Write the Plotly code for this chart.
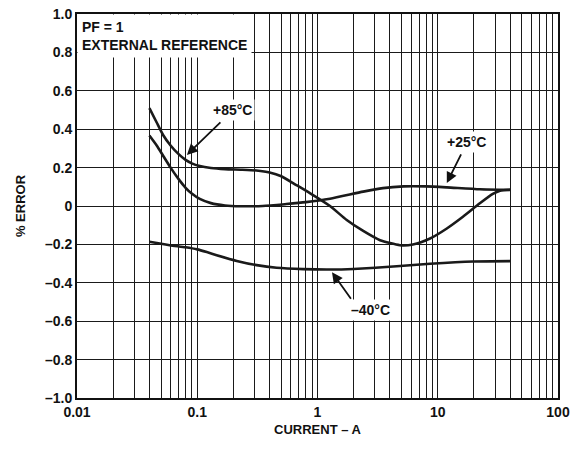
import math
import plotly.graph_objects as go

# Data
x_85 = [0.04, 0.046, 0.052, 0.06, 0.07, 0.08, 0.09, 0.105, 0.13, 0.17, 0.23, 0.31, 0.4, 0.5, 0.65, 0.87, 1.27, 1.75, 2.4, 3.31, 4.85, 6.22, 8.63, 11.9, 16.2, 22.4, 28.7, 33, 40]
y_85 = [0.51, 0.435, 0.37, 0.315, 0.27, 0.24, 0.222, 0.208, 0.198, 0.192, 0.189, 0.185, 0.175, 0.155, 0.113, 0.066, 0.0, -0.073, -0.13, -0.178, -0.204, -0.2, -0.169, -0.117, -0.056, 0.014, 0.063, 0.08, 0.085]

x_25 = [0.04, 0.046, 0.052, 0.06, 0.07, 0.08, 0.09, 0.105, 0.13, 0.17, 0.23, 0.35, 0.55, 0.8, 1.27, 2.4, 3.5, 5.2, 8.0, 11.9, 22.4, 40]
y_25 = [0.367, 0.315, 0.262, 0.2, 0.14, 0.095, 0.065, 0.037, 0.015, 0.003, -0.001, 0.0, 0.01, 0.02, 0.038, 0.075, 0.093, 0.102, 0.102, 0.097, 0.087, 0.084]

x_m40 = [0.04, 0.059, 0.08, 0.1, 0.12, 0.145, 0.213, 0.312, 0.457, 0.76, 1.27, 1.99, 4.56, 8.63, 19.8, 40]
y_m40 = [-0.186, -0.204, -0.215, -0.226, -0.24, -0.256, -0.286, -0.308, -0.322, -0.329, -0.331, -0.328, -0.314, -0.301, -0.289, -0.287]

x_tickvals = [0.01, 0.1, 1, 10, 100]
x_ticktext = ["0.01", "0.1", "1", "10", "100"]
y_tickvals = [1.0, 0.8, 0.6, 0.4, 0.2, 0, -0.2, -0.4, -0.6, -0.8, -1.0]
y_ticktext = ["1.0", "0.8", "0.6", "0.4", "0.2", "0", "–0.2", "–0.4", "–0.6", "–0.8", "–1.0"]

label_x = [0.198, 17.5, 2.74]
label_y = [0.50, 0.334, -0.543]
label_text = ["+85°C", "+25°C", "–40°C"]

arrow_x = [0.082, 11.9, 1.32]
arrow_y = [0.266, 0.12, -0.345]

FONT = "Liberation Sans"
line_style = dict(color="#1a1a1a", width=2.6, shape="spline", smoothing=0.6)

fig = go.Figure()
for xs, ys, name in [(x_85, y_85, "+85°C"), (x_25, y_25, "+25°C"), (x_m40, y_m40, "−40°C")]:
    fig.add_trace(go.Scatter(x=xs, y=ys, mode="lines", line=line_style, name=name,
                             showlegend=False, hoverinfo="skip"))

grid_col = "#1a1a1a"
tick_font = dict(family=FONT, size=14, color="#111")
fig.update_xaxes(
    type="log", range=[-2, 2],
    tickvals=x_tickvals, ticktext=[f"<b>{t}</b>" for t in x_ticktext],
    showgrid=True, gridcolor=grid_col, gridwidth=1.3,
    minor=dict(dtick="D1", showgrid=True, gridcolor=grid_col, gridwidth=1.3, ticks=""),
    showline=True, linecolor="#111", linewidth=2, mirror=True,
    ticks="", zeroline=False, tickfont=tick_font, ticklabeloverflow="allow",
    title=dict(text="<b>CURRENT – A</b>", font=dict(family=FONT, size=13, color="#111"), standoff=6),
)
fig.update_yaxes(
    range=[-1.0, 1.0],
    tickvals=y_tickvals, ticktext=[f"<b>{t}</b>" for t in y_ticktext],
    showgrid=True, gridcolor=grid_col, gridwidth=1.3,
    showline=True, linecolor="#111", linewidth=2, mirror=True,
    ticks="", zeroline=False, tickfont=tick_font, ticklabeloverflow="allow",
    title=dict(text="<b>% ERROR</b>", font=dict(family=FONT, size=13, color="#111"), standoff=16),
)

fig.update_layout(
    width=579, height=449,
    margin=dict(l=77, r=21, t=14, b=51, autoexpand=False),
    plot_bgcolor="white", paper_bgcolor="white",
    font=dict(family=FONT, color="#111"),
)

ann_font = dict(family=FONT, size=14, color="#111")
# Box in the top-left
fig.add_annotation(xref="paper", yref="paper", x=0.0, y=1.0, xanchor="left", yanchor="top",
                   text="<b>PF = 1<br>EXTERNAL REFERENCE</b>", align="left", showarrow=False,
                   bgcolor="white", borderpad=4, font=ann_font)

# Curve labels (text with white background)
for lx, ly, t in zip(label_x, label_y, label_text):
    fig.add_annotation(x=math.log10(lx), y=ly, xref="x", yref="y", text=f"<b>{t}</b>", showarrow=False,
                       bgcolor="white", borderpad=2, font=ann_font)

# Arrows (head at curve, tail offset in pixels)
arrow_offsets = [(35, -34), (15, -30), (20, 28)]
for hx, hy, (ax, ay) in zip(arrow_x, arrow_y, arrow_offsets):
    fig.add_annotation(x=math.log10(hx), y=hy, xref="x", yref="y", text="", showarrow=True,
                       ax=ax, ay=ay, arrowhead=2, arrowsize=1.2, arrowwidth=1.8,
                       arrowcolor="#111", standoff=0)

fig.write_html("out.html", config={"displayModeBar": False},
               post_script="document.body.style.margin='0';document.body.style.overflow='hidden';")
